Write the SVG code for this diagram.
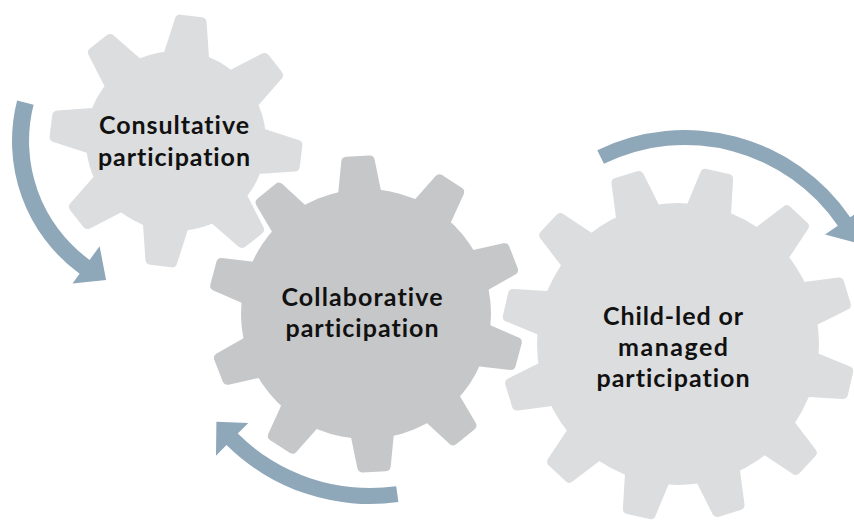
<svg xmlns="http://www.w3.org/2000/svg" xmlns:xlink="http://www.w3.org/1999/xlink" width="854" height="520" viewBox="0 0 854 520">
  <style>
    .g-light { fill: #dcdddf; }
    .g-dark { fill: #c6c7c9; }
    .halo { fill: #ffffff; stroke: #ffffff; stroke-width: 6; stroke-linejoin: round; }
    .arrow { fill: #8ea7b9; }
    .label { font-family: Lato, "Open Sans", "Liberation Sans", sans-serif; font-weight: 700; font-size: 25px; fill: #111111; text-anchor: middle; font-variant-ligatures: none; }
  </style>
  <defs>
    <!-- one tooth per gear size, pointing along +x from the gear centre -->
    <path id="t1" d="M 80,-23.9 L 121.6,-15.9 Q 126,-15 126,-10.5 L 126,10.5 Q 126,15 121.6,15.9 L 80,23.9 Z"/>
    <path id="t2" d="M 115,-22.5 L 153.6,-16.7 Q 158,-16 158,-11.5 L 158,11.5 Q 158,16 153.6,16.7 L 115,22.5 Z"/>
    <path id="t3" d="M 131,-23.7 L 172.6,-16.7 Q 177,-16 177,-11.5 L 177,11.5 Q 177,16 172.6,16.7 L 131,23.7 Z"/>
    <!-- middle gear outline, reused for its white halo and its fill -->
    <g id="gear2-shape">
      <circle r="125"/>
      <use xlink:href="#t2" transform="rotate(-93)"/>
      <use xlink:href="#t2" transform="rotate(-57)"/>
      <use xlink:href="#t2" transform="rotate(-21)"/>
      <use xlink:href="#t2" transform="rotate(15)"/>
      <use xlink:href="#t2" transform="rotate(51)"/>
      <use xlink:href="#t2" transform="rotate(87)"/>
      <use xlink:href="#t2" transform="rotate(123)"/>
      <use xlink:href="#t2" transform="rotate(159)"/>
      <use xlink:href="#t2" transform="rotate(195)"/>
      <use xlink:href="#t2" transform="rotate(231)"/>
    </g>
  </defs>

  <!-- gear 1: eight teeth -->
  <g id="consultative">
    <g class="g-light" transform="translate(176,141)">
      <circle r="90"/>
      <use xlink:href="#t1" transform="rotate(-83)"/>
      <use xlink:href="#t1" transform="rotate(-38)"/>
      <use xlink:href="#t1" transform="rotate(7)"/>
      <use xlink:href="#t1" transform="rotate(52)"/>
      <use xlink:href="#t1" transform="rotate(97)"/>
      <use xlink:href="#t1" transform="rotate(142)"/>
      <use xlink:href="#t1" transform="rotate(187)"/>
      <use xlink:href="#t1" transform="rotate(232)"/>
    </g>
    <text class="label" x="174" y="134" textLength="150">Consultative</text>
    <text class="label" x="174" y="166" textLength="152">participation</text>
  </g>

  <!-- gear 3: twelve teeth -->
  <g id="child-led">
    <g class="g-light" transform="translate(678,344)">
      <circle r="141"/>
      <use xlink:href="#t3" transform="rotate(13)"/>
      <use xlink:href="#t3" transform="rotate(43)"/>
      <use xlink:href="#t3" transform="rotate(73)"/>
      <use xlink:href="#t3" transform="rotate(103)"/>
      <use xlink:href="#t3" transform="rotate(133)"/>
      <use xlink:href="#t3" transform="rotate(163)"/>
      <use xlink:href="#t3" transform="rotate(193)"/>
      <use xlink:href="#t3" transform="rotate(223)"/>
      <use xlink:href="#t3" transform="rotate(253)"/>
      <use xlink:href="#t3" transform="rotate(283)"/>
      <use xlink:href="#t3" transform="rotate(313)"/>
      <use xlink:href="#t3" transform="rotate(343)"/>
    </g>
    <text class="label" x="673" y="325" textLength="140">Child-led or</text>
    <text class="label" x="673" y="356" textLength="110">managed</text>
    <text class="label" x="673" y="387" textLength="153">participation</text>
  </g>

  <!-- gear 2: ten teeth, drawn over a white halo so it sits apart from its neighbours -->
  <g id="collaborative">
    <g transform="translate(366,314)">
      <use xlink:href="#gear2-shape" class="halo"/>
      <use xlink:href="#gear2-shape" class="g-dark"/>
    </g>
    <text class="label" x="362" y="306" textLength="161">Collaborative</text>
    <text class="label" x="362" y="337" textLength="153">participation</text>
  </g>

  <!-- curved rotation arrows -->
  <g id="connectors" class="arrow">
    <path d="M 17.1,100.5 A 164 164 0 0 0 79.6,273.7 L 72.5,283.4 L 106.1,279.9 L 99.6,246.2 L 89.6,259.9 A 147 147 0 0 1 33.6,104.7 Z"/>
    <path d="M 398.4,502 A 204 204 0 0 1 226.5,445 L 216,455.7 L 216.4,421.7 L 248.3,423 L 237.8,433.6 A 188 188 0 0 0 396.2,486.2 Z"/>
    <path d="M 597.3,150.2 A 200 200 0 0 1 850.2,217.3 L 863,208.6 L 856.7,242.9 L 825,234.5 L 837.8,225.8 A 185 185 0 0 0 603.9,163.7 Z"/>
  </g>
</svg>
